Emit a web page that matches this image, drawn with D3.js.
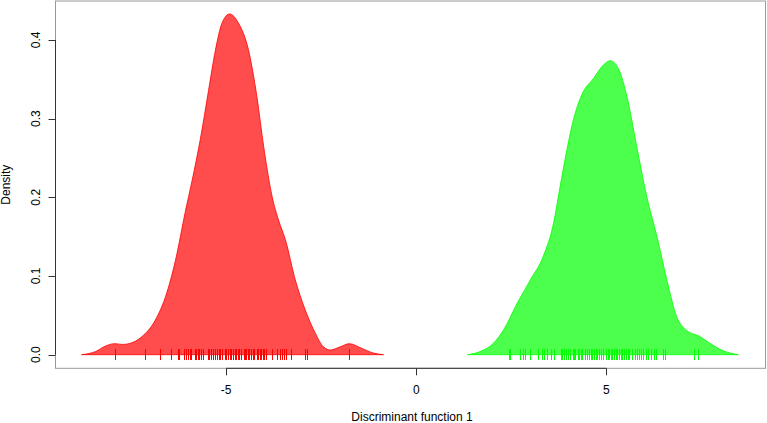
<!DOCTYPE html>
<html><head><meta charset="utf-8">
<script src="https://cdn.jsdelivr.net/npm/d3@7"></script>
<style>html,body{margin:0;padding:0;background:#fff;}svg{display:block;}</style>
</head><body>
<svg id="c" width="767" height="423"></svg>
<script>
// Red group density (x, density)
const redX = [-8.80,-8.43,-8.17,-7.93,-7.73,-7.55,-7.21,-6.86,-6.59,-6.33,-6.07,-5.89,-5.68,-5.46,-5.28,-5.11,-4.91,-4.67,-4.41,-4.19,-4.01,-3.79,-3.62,-3.44,-3.18,-2.92,-2.65,-2.44,-2.26,-2.00,-1.76,-1.43,-1.12,-0.86];
const redY = [0.000,0.004,0.011,0.014,0.013,0.014,0.023,0.044,0.074,0.120,0.182,0.222,0.273,0.336,0.387,0.421,0.433,0.421,0.387,0.328,0.264,0.201,0.171,0.146,0.095,0.057,0.027,0.010,0.006,0.010,0.014,0.008,0.002,0.000];
// Green group density
const greenX = [1.35,1.68,2.03,2.29,2.65,3.00,3.34,3.61,3.78,3.96,4.13,4.35,4.66,4.92,5.10,5.32,5.54,5.80,6.06,6.33,6.59,6.85,7.11,7.46,7.72,8.07,8.47];
const greenY = [0.000,0.004,0.0145,0.031,0.065,0.095,0.125,0.167,0.213,0.260,0.298,0.330,0.351,0.368,0.3736,0.363,0.328,0.264,0.201,0.150,0.095,0.048,0.031,0.023,0.0145,0.005,0.000];
// Rug observations
const redRug = [-7.93,-7.14,-6.74,-6.44,-6.26,-6.24,-6.10,-6.05,-6.01,-5.96,-5.92,-5.83,-5.79,-5.75,-5.70,-5.65,-5.60,-5.48,-5.45,-5.39,-5.35,-5.30,-5.25,-5.19,-5.15,-5.10,-5.04,-4.99,-4.95,-4.91,-4.86,-4.83,-4.77,-4.74,-4.68,-4.65,-4.60,-4.54,-4.51,-4.47,-4.43,-4.39,-4.34,-4.30,-4.26,-4.20,-4.16,-4.12,-4.07,-4.03,-3.99,-3.94,-3.79,-3.66,-3.59,-3.53,-3.49,-3.42,-3.29,-2.92,-2.87,-1.76];
const greenRug = [2.43,2.47,2.73,2.80,2.86,3.00,3.21,3.30,3.36,3.45,3.54,3.63,3.80,3.84,3.89,3.93,4.00,4.03,4.11,4.15,4.18,4.24,4.29,4.33,4.37,4.44,4.50,4.55,4.59,4.63,4.68,4.72,4.76,4.81,4.85,4.92,4.98,5.03,5.07,5.12,5.16,5.20,5.25,5.29,5.33,5.38,5.42,5.47,5.52,5.56,5.60,5.67,5.74,5.80,5.86,5.91,5.97,6.04,6.10,6.17,6.24,6.30,6.48,6.54,7.29,7.42];
const xTicks = [-5, 0, 5];
const yTicks = [0.0, 0.1, 0.2, 0.3, 0.4];
const xTitle = "Discriminant function 1";
const yTitle = "Density";

const svg = d3.select("#c");
const L = 55.5, R = 765.5, T = 1, B = 368.3;
const x = d3.scaleLinear().domain([-9.485, 9.183]).range([L, R]);
const y = d3.scaleLinear().domain([-0.0173, 0.4494]).range([B, T]);
const font = "'Liberation Sans', Arial, Helvetica, sans-serif";

function drawDensity(xs, ys, fill, stroke) {
  const pts = xs.map((v, i) => [v, ys[i]]);
  const area = d3.area().x(d => x(d[0])).y0(y(0)).y1(d => y(d[1])).curve(d3.curveMonotoneX);
  svg.append("path").attr("d", area(pts)).attr("fill", fill).attr("stroke", stroke).attr("stroke-width", 1);
}
drawDensity(redX, redY, "rgba(255,0,0,0.7)", "rgba(255,0,0,0.8)");
drawDensity(greenX, greenY, "rgba(0,255,0,0.7)", "rgba(0,255,0,0.8)");

function drawRug(vals, color) {
  svg.append("g").selectAll("line").data(vals).join("line")
    .attr("x1", d => Math.round(x(d)) + 0.5).attr("x2", d => Math.round(x(d)) + 0.5)
    .attr("y1", y(0.0072)).attr("y2", y(-0.0068))
    .attr("stroke", color).attr("stroke-width", 1);
}
drawRug(redRug, "#ff0000");
drawRug(greenRug, "#00ff00");

// box
svg.append("rect").attr("x", L).attr("y", T).attr("width", R - L).attr("height", B - T)
  .attr("fill", "none").attr("stroke", "#999").attr("stroke-width", 1);

// x axis (R style)
const gx = svg.append("g");
gx.append("line").attr("x1", x(xTicks[0])).attr("x2", x(xTicks[xTicks.length - 1]))
  .attr("y1", B).attr("y2", B).attr("stroke", "#333");
gx.selectAll("line.t").data(xTicks).join("line").attr("class", "t")
  .attr("x1", d => Math.round(x(d)) + 0.5).attr("x2", d => Math.round(x(d)) + 0.5)
  .attr("y1", B).attr("y2", B + 7).attr("stroke", "#333");
gx.selectAll("text").data(xTicks).join("text")
  .attr("x", d => x(d)).attr("y", 394).attr("text-anchor", "middle")
  .attr("font-family", font).attr("font-size", 12).attr("fill", "#000")
  .text(d => d);

// y axis
const gy = svg.append("g");
gy.append("line").attr("x1", L).attr("x2", L)
  .attr("y1", y(yTicks[0])).attr("y2", y(yTicks[yTicks.length - 1])).attr("stroke", "#333");
gy.selectAll("line.t").data(yTicks).join("line").attr("class", "t")
  .attr("x1", L - 7).attr("x2", L)
  .attr("y1", d => Math.round(y(d)) + 0.5).attr("y2", d => Math.round(y(d)) + 0.5).attr("stroke", "#333");
gy.selectAll("text").data(yTicks).join("text")
  .attr("transform", d => `translate(40,${y(d)}) rotate(-90)`)
  .attr("text-anchor", "middle")
  .attr("font-family", font).attr("font-size", 12).attr("fill", "#000")
  .text(d => d.toFixed(1));

// titles
svg.append("text").attr("x", 412).attr("y", 420.5).attr("text-anchor", "middle")
  .attr("font-family", font).attr("font-size", 12).attr("fill", "#000").text(xTitle);
svg.append("text").attr("transform", `translate(9.5,${(T + B) / 2}) rotate(-90)`)
  .attr("text-anchor", "middle")
  .attr("font-family", font).attr("font-size", 12).attr("fill", "#000").text(yTitle);
</script>
</body></html>
